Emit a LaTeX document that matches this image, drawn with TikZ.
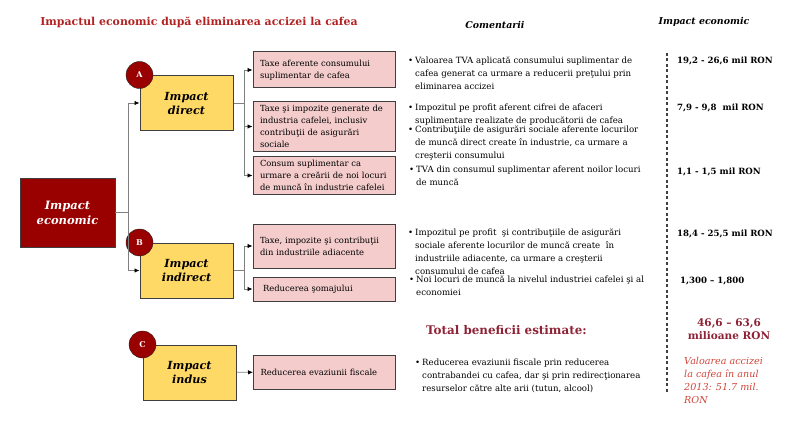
\documentclass[tikz,border=0pt]{standalone}
\usepackage{fontspec}
\setmainfont{DejaVu Serif}
\usetikzlibrary{arrows.meta,positioning}

\definecolor{darkred}{HTML}{990000}
\definecolor{titlered}{HTML}{B22222}
\definecolor{maroon}{HTML}{8E2236}
\definecolor{notered}{HTML}{D0453A}
\definecolor{boxyellow}{HTML}{FFD966}
\definecolor{boxpink}{HTML}{F4CCCC}
\definecolor{edgegray}{HTML}{3F3F3F}
\definecolor{linkgray}{HTML}{7F7F7F}

\newcommand{\bul}{\makebox[7pt][l]{\textbullet}}
\newcommand{\hng}{\hspace*{7pt}}

\begin{document}
\begin{tikzpicture}[x=1pt, y=-1pt,
    econbox/.style={draw=edgegray, fill=darkred, text=white, align=center, minimum width=95pt, minimum height=69pt, font=\bfseries\itshape\fontsize{11.5}{15}\selectfont},
    kindbox/.style={draw=edgegray, line width=1pt, fill=boxyellow, align=center, minimum width=93pt, minimum height=55pt, font=\bfseries\itshape\fontsize{11.2}{14}\selectfont},
    itembox/.style={draw=edgegray, line width=1pt, fill=boxpink, align=left, text width=128pt, inner xsep=7pt, font=\fontsize{8.4}{12}\selectfont},
    tag/.style={circle, draw=black!85, fill=darkred, text=white, minimum size=27pt, inner sep=0pt, font=\bfseries\fontsize{8}{8}\selectfont},
    link/.style={draw=linkgray, line width=0.8pt},
    arr/.style={link, -{Latex[length=5pt, width=4.5pt, black]}},
    cmt/.style={anchor=north west, inner sep=0pt, align=left, font=\fontsize{8.6}{13}\selectfont},
    val/.style={anchor=west, inner sep=0pt, font=\bfseries\fontsize{8.6}{10}\selectfont},
    head/.style={inner sep=0pt, font=\bfseries\itshape\fontsize{9.4}{11}\selectfont},
    divider/.style={draw=black!75, line width=1.1pt, dash pattern=on 3pt off 2.5pt}
  ]
  \useasboundingbox (0,0) rectangle (800,433);

  % headings
  \node[inner sep=0pt, text=titlered, font=\bfseries\fontsize{10.9}{12}\selectfont] (title) at (199,22) {Impactul economic după eliminarea accizei la cafea};
  \node[head] (hcom) at (495,25) {Comentarii};
  \node[head] (hval) at (704,22) {Impact economic};

  % tree
  \node[econbox] (econ) at (67.5,212.5) {Impact\\economic};
  \node[kindbox] (direct) at (186.5,103) {Impact\\direct};
  \node[kindbox] (indirect) at (186.5,270.5) {Impact\\indirect};
  \node[kindbox] (indus) at (189.5,372.5) {Impact\\indus};
  \node[tag] (tagA) at (direct.north west) {A};
  \node[tag] (tagB) at (indirect.north west) {B};
  \node[tag] (tagC) at (indus.north west) {C};

  \node[itembox, minimum height=36pt] (t1) at (324,70) {Taxe aferente consumului\\suplimentar de cafea};
  \node[itembox, minimum height=49pt] (t2) at (324,126.5) {Taxe şi impozite generate de\\industria cafelei, inclusiv\\contribuţii de asigurări\\sociale};
  \node[itembox, minimum height=37pt] (t3) at (324,175.5) {Consum suplimentar ca\\urmare a creării de noi locuri\\de muncă în industrie cafelei};
  \node[itembox, minimum height=44pt] (t4) at (324,246) {Taxe, impozite şi contribuţii\\din industriile adiacente};
  \node[itembox, minimum height=24pt] (t5) at (324,289) {\hspace*{3pt}Reducerea şomajului};
  \node[itembox, minimum height=34pt] (t6) at (324.5,372) {Reducerea evaziunii fiscale};

  \draw[link] (econ.east) -- ++(13,0) coordinate (ehub);
  \draw[arr] (ehub) |- (direct.west);
  \draw[arr] (ehub) |- (indirect.west);
  \draw[link] (direct.east) -- ++(11,0) coordinate (dhub);
  \foreach \t in {t1,t2,t3}
    \draw[arr] (dhub) |- (\t.west);
  \draw[link] (indirect.east) -- ++(11,0) coordinate (ihub);
  \foreach \t in {t4,t5}
    \draw[arr] (ihub) |- (\t.west);
  \draw[arr] (indus) -- (t6);

  % comments
  \node[cmt] (c1) at (408,54) {\strut\bul Valoarea TVA aplicată consumului suplimentar de\\\hng cafea generat ca urmare a reducerii preţului prin\\\hng eliminarea accizei};
  \node[cmt] (c2) at (408,101) {\strut\bul Impozitul pe profit aferent cifrei de afaceri\\\hng suplimentare realizate de producătorii de cafea};
  \node[cmt] (c3) at (408,123) {\strut\bul Contribuţiile de asigurări sociale aferente locurilor\\\hng de muncă direct create în industrie, ca urmare a\\\hng creşterii consumului};
  \node[cmt] (c4) at (409,163) {\strut\bul TVA din consumul suplimentar aferent noilor locuri\\\hng de muncă};
  \node[cmt] (c5) at (408,226) {\strut\bul Impozitul pe profit\ \ şi contribuţiile de asigurări\\\hng sociale aferente locurilor de muncă create\ \ în\\\hng industriile adiacente, ca urmare a creşterii\\\hng consumului de cafea};
  \node[cmt] (c6) at (409,273) {\strut\bul Noi locuri de muncă la nivelul industriei cafelei şi al\\\hng economiei};
  \node[cmt] (c7) at (415,356) {\strut\bul Reducerea evaziunii fiscale prin reducerea\\\hng contrabandei cu cafea, dar şi prin redirecţionarea\\\hng resurselor către alte arii (tutun, alcool)};
  \node[anchor=west, inner sep=0pt, text=maroon, font=\bfseries\fontsize{11.9}{14}\selectfont] (total) at (426,330) {Total beneficii estimate:};

  % values
  \coordinate (dtop) at (667,53);
  \coordinate (dbot) at (667,393);
  \draw[divider] (dtop) -- (dbot);
  \node[val] (v1) at (677,61) {19,2 - 26,6 mil RON};
  \node[val] (v2) at (677,108) {7,9 - 9,8\ \ mil RON};
  \node[val] (v3) at (677,172) {1,1 - 1,5 mil RON};
  \node[val] (v4) at (677,234) {18,4 - 25,5 mil RON};
  \node[val] (v5) at (680,281) {1,300 – 1,800};
  \node[inner sep=0pt, align=center, text=maroon, font=\bfseries\fontsize{10.5}{13}\selectfont] (sum) at (729,329.5) {46,6 – 63,6\\milioane RON};
  \node[anchor=north west, inner sep=0pt, align=left, text=notered, font=\itshape\fontsize{9.6}{13}\selectfont] (note) at (684,355.4) {\strut Valoarea accizei\\la cafea în anul\\2013: 51.7 mil.\\RON};
\end{tikzpicture}
\end{document}
